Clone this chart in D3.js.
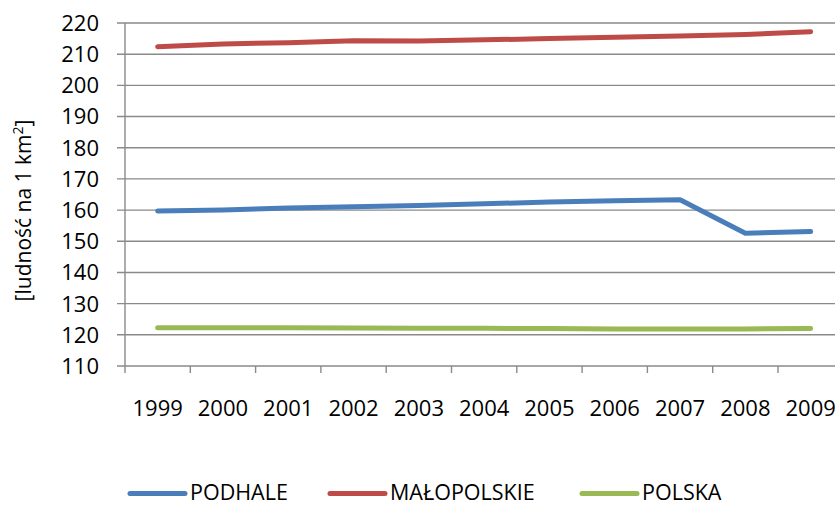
<!DOCTYPE html>
<html>
<head>
<meta charset="utf-8">
<script src="https://cdn.jsdelivr.net/npm/d3@7"></script>
<style>
  body { margin: 0; background: #fff; }
  svg text { font-family: "Open Sans", sans-serif; fill: #000; }
</style>
</head>
<body>
<div id="chart"></div>
<script>
// data
var years = ["1999","2000","2001","2002","2003","2004","2005","2006","2007","2008","2009"];
var podhale     = [159.7, 160.0, 160.7, 161.1, 161.5, 162.0, 162.6, 163.0, 163.3, 152.6, 153.1];
var malopolskie = [212.4, 213.3, 213.7, 214.3, 214.2, 214.6, 215.0, 215.4, 215.8, 216.3, 217.2];
var polska      = [122.3, 122.3, 122.3, 122.2, 122.1, 122.1, 122.0, 121.9, 121.9, 121.9, 122.0];
var yTicks = [110, 120, 130, 140, 150, 160, 170, 180, 190, 200, 210, 220];

var series = [
  {name: "PODHALE", values: podhale, color: "#4a7ebb"},
  {name: "MAŁOPOLSKIE", values: malopolskie, color: "#be4b48"},
  {name: "POLSKA", values: polska, color: "#98b954"}
];

var width = 835, height = 506;
var plotLeft = 125, plotTop = 23, plotBottom = 366;
var bandW = 65.3;

var svg = d3.select("#chart").append("svg")
  .attr("width", width)
  .attr("height", height);

var x = d3.scaleBand()
  .domain(years)
  .range([plotLeft, plotLeft + bandW * years.length]);

var y = d3.scaleLinear()
  .domain([110, 220])
  .range([plotBottom, plotTop]);

// gridlines
svg.append("g")
  .selectAll("line")
  .data(yTicks)
  .enter().append("line")
    .attr("x1", plotLeft - 8)
    .attr("x2", width)
    .attr("y1", function(d) { return y(d); })
    .attr("y2", function(d) { return y(d); })
    .attr("stroke", "#8a8a8a")
    .attr("stroke-width", 1.4);

// y labels
svg.append("g")
  .selectAll("text")
  .data(yTicks)
  .enter().append("text")
    .attr("x", 99)
    .attr("y", function(d) { return y(d); })
    .attr("dy", "0.36em")
    .attr("text-anchor", "end")
    .style("font-size", "22px")
    .text(function(d) { return d; });

// y axis line
svg.append("line")
  .attr("x1", plotLeft).attr("x2", plotLeft)
  .attr("y1", plotTop).attr("y2", plotBottom + 7)
  .attr("stroke", "#8a8a8a")
  .attr("stroke-width", 1.4);

// x ticks
svg.append("g")
  .selectAll("line")
  .data(years.slice(1))
  .enter().append("line")
    .attr("x1", function(d) { return x(d); })
    .attr("x2", function(d) { return x(d); })
    .attr("y1", plotBottom)
    .attr("y2", plotBottom + 7)
    .attr("stroke", "#8a8a8a")
    .attr("stroke-width", 1.4);

// x labels
svg.append("g")
  .selectAll("text")
  .data(years)
  .enter().append("text")
    .attr("x", function(d) { return x(d) + x.bandwidth() / 2; })
    .attr("y", 408)
    .attr("dy", "0.36em")
    .attr("text-anchor", "middle")
    .style("font-size", "22px")
    .text(function(d) { return d; });

// y title
var title = svg.append("text")
  .attr("transform", "translate(31,210.5) rotate(-90)")
  .attr("text-anchor", "middle")
  .style("font-size", "21px");
title.append("tspan").text("[ludność na 1 km");
title.append("tspan").attr("dy", -8).style("font-size", "14px").text("2");
title.append("tspan").attr("dy", 8).text("]");

// lines
var line = d3.line()
  .x(function(d, i) { return x(years[i]) + x.bandwidth() / 2; })
  .y(function(d) { return y(d); });

svg.append("g")
  .selectAll("path")
  .data(series)
  .enter().append("path")
    .attr("d", function(s) { return line(s.values); })
    .attr("fill", "none")
    .attr("stroke", function(s) { return s.color; })
    .attr("stroke-width", 5)
    .attr("stroke-linecap", "round")
    .attr("stroke-linejoin", "round");

// legend
var legendX = [130, 330, 582];
var lg = svg.append("g")
  .selectAll("g")
  .data(series)
  .enter().append("g")
    .attr("transform", function(s, i) { return "translate(" + legendX[i] + ",493.5)"; });

lg.append("line")
  .attr("x1", 0).attr("x2", 55)
  .attr("stroke", function(s) { return s.color; })
  .attr("stroke-width", 5)
  .attr("stroke-linecap", "round");

lg.append("text")
  .attr("x", 60)
  .attr("y", 6)
  .style("font-size", "21.5px")
  .text(function(s) { return s.name; });
</script>
</body>
</html>
